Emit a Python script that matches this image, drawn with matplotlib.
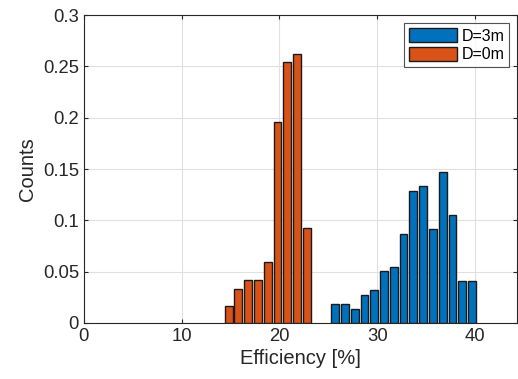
import matplotlib
matplotlib.use("Agg")
import matplotlib.pyplot as plt
from matplotlib.patches import Patch

plt.rcParams['font.family'] = ['Liberation Sans', 'DejaVu Sans']

# Data
d0_centers = [14.8, 15.8, 16.8, 17.8, 18.8, 19.8, 20.8, 21.8, 22.8]
d0_values = [0.0163, 0.033, 0.0416, 0.0416, 0.059, 0.1955, 0.2546, 0.262, 0.0925]
d3_centers = [25.7, 26.7, 27.7, 28.7, 29.7, 30.7, 31.7, 32.7, 33.7, 34.7, 35.7, 36.7, 37.7, 38.7, 39.7]
d3_values = [0.0185, 0.0185, 0.014, 0.0276, 0.032, 0.0503, 0.0549, 0.0867, 0.1289, 0.133, 0.0916, 0.147, 0.1049, 0.0412, 0.0412]
xticks = [0, 10, 20, 30, 40]
yticks = [0, 0.05, 0.1, 0.15, 0.2, 0.25, 0.3]
ytick_labels = ['0', '0.05', '0.1', '0.15', '0.2', '0.25', '0.3']

blue = '#0072BD'
orange = '#D95319'

fig = plt.figure(figsize=(5.18, 3.79), dpi=100)
ax = fig.add_axes([0.162, 0.148, 0.836, 0.812])
ax.bar(d3_centers, d3_values, width=0.8, color=blue, edgecolor='#1a1a1a', linewidth=1.0, zorder=3)
ax.bar(d0_centers, d0_values, width=0.8, color=orange, edgecolor='#1a1a1a', linewidth=1.0, zorder=3)

ax.set_xlim(0, 44.3)
ax.set_ylim(0, 0.3)
ax.set_xticks(xticks)
ax.set_yticks(yticks)
ax.set_yticklabels(ytick_labels)
ax.grid(True, color='#e0e0e0', linewidth=0.8, zorder=0)
ax.tick_params(direction='in', labelsize=13.3, colors='#262626', length=3, top=True, right=True)
for s in ax.spines.values():
    s.set_color('#262626')
    s.set_linewidth(0.8)
ax.set_xlabel('Efficiency [%]', fontsize=14.5, color='#262626', labelpad=3)
ax.set_ylabel('Counts', fontsize=14.5, color='#262626')

handles = [Patch(facecolor=blue, edgecolor='#1a1a1a', label='D=3m'),
           Patch(facecolor=orange, edgecolor='#1a1a1a', label='D=0m')]
leg = ax.legend(handles=handles, loc='upper right', fontsize=11.5, frameon=True, fancybox=False,
                edgecolor='#262626', handlelength=3.0, handleheight=1.0, borderpad=0.3,
                labelspacing=0.2, handletextpad=0.3, borderaxespad=0.5)
leg.get_frame().set_linewidth(0.8)

fig.savefig('out.png', dpi=100)
